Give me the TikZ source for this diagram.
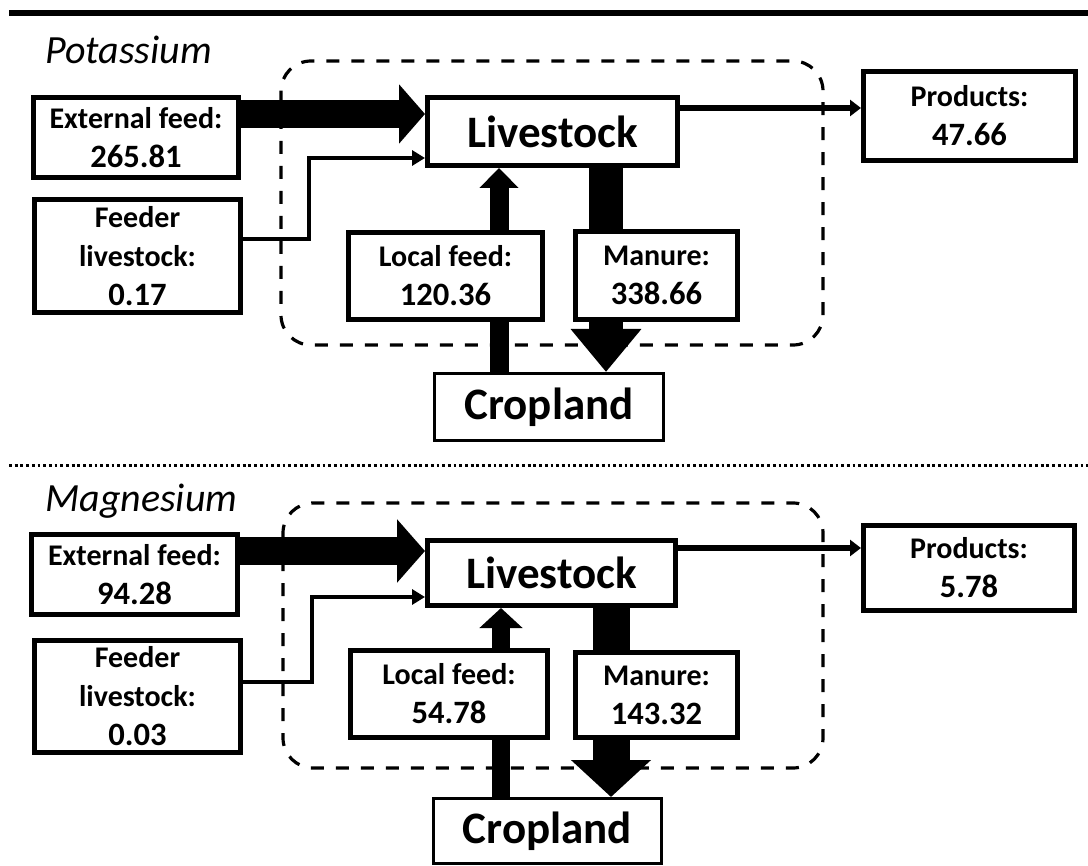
\documentclass[tikz,border=0pt]{standalone}
\usepackage{fontspec}
\setmainfont{Carlito}
\usetikzlibrary{arrows.meta,calc,backgrounds}
\newcommand{\flowval}[1]{{\fontsize{16.3}{19.5}\selectfont #1}}

\begin{document}
\begin{tikzpicture}[x=0.5pt,y=-0.5pt,
  box/.style={draw, line width=2.3pt, fill=white, inner sep=0pt, align=center, font=\fontsize{15}{19.5}\selectfont\bfseries},
  bigbox/.style={box, font=\fontsize{22.5}{27}\selectfont\bfseries},
  paneltitle/.style={anchor=base west, inner sep=0pt, font=\fontsize{20}{24}\selectfont\itshape},
  boundary/.style={line width=1.6pt, dash pattern=on 6.5pt off 6pt, rounded corners=15pt},
  thinflow/.style={line width=1.8pt, -{Triangle[length=6.5pt,width=7.5pt]}},
  outflow/.style={line width=3.3pt, -{Triangle[length=5.5pt,width=8pt]}}]
\useasboundingbox (0,0) rectangle (1088,866);

% Potassium
\draw[line width=3pt] (9,13) -- (1088,13);
\node[paneltitle] (ktitle) at (45,64) {Potassium};
\node[box, minimum width=102.7pt, minimum height=40.2pt] (kext) at (136,137.5) {External feed:\\\flowval{265.81}};
\node[box, minimum width=103.2pt, minimum height=56.7pt] (kfeeder) at (137.5,256) {Feeder\\livestock:\\\flowval{0.17}};
\node[bigbox, minimum width=125.2pt, minimum height=34.2pt] (klive) at (552.5,131.5) {Livestock};
\node[box, minimum width=97.2pt, minimum height=43.7pt] (klocal) at (445.5,276) {Local feed:\\\flowval{120.36}};
\node[box, minimum width=81.2pt, minimum height=44.2pt] (kmanure) at (656.5,275.5) {Manure:\\\flowval{338.66}};
\node[bigbox, line width=1.3pt, minimum width=114.7pt, minimum height=33.7pt] (kcrop) at (549,407) {Cropland};
\node[box, minimum width=106.2pt, minimum height=44.7pt] (kprod) at (969.5,116) {Products:\\\flowval{47.66}};
\begin{scope}[on background layer]
\draw[boundary] (281,61) rectangle (823,345);
\coordinate (kin) at ($(kext.north east)+(0,19)$);
\draw[line width=14pt, -{Triangle[length=13pt,width=29pt]}] (kin) -- (kin -| klive.west);
\draw[thinflow] ($(kfeeder.north east)+(0,42)$) -- ++(66,0) |- ($(klive.north west)+(0,63)$);
\coordinate (kl) at ($(kcrop.north west)+(66,0)$);
\draw[line width=9.5pt, -{Triangle[length=10pt,width=19pt]}] (kl) -- (kl |- klive.south);
\coordinate (km) at ($(klive.south west)+(181,0)$);
\draw[line width=17pt, -{Triangle[length=21.5pt,width=34pt]}] (km) -- (km |- kcrop.north);
\coordinate (kout) at ($(klive.north east)+(0,13)$);
\draw[outflow] (kout) -- (kout -| kprod.west);
\end{scope}

\draw[line width=1.5pt, dash pattern=on 1.4pt off 1.45pt] (9,466) -- (1088,466);

% Magnesium
\node[paneltitle] (mtitle) at (45,511) {Magnesium};
\node[box, minimum width=103.2pt, minimum height=40.2pt] (mext) at (134.5,574.5) {External feed:\\\flowval{94.28}};
\node[box, minimum width=103.2pt, minimum height=56.2pt] (mfeeder) at (137.5,696.5) {Feeder\\livestock:\\\flowval{0.03}};
\node[bigbox, minimum width=124.2pt, minimum height=32.7pt] (mlive) at (551.5,573) {Livestock};
\node[box, minimum width=98.7pt, minimum height=43.7pt] (mlocal) at (449,694) {Local feed:\\\flowval{54.78}};
\node[box, minimum width=81.2pt, minimum height=42.7pt] (mmanure) at (656.5,695) {Manure:\\\flowval{143.32}};
\node[bigbox, line width=1.3pt, minimum width=114.2pt, minimum height=32.7pt] (mcrop) at (547.5,831) {Cropland};
\node[box, minimum width=105.7pt, minimum height=42.7pt] (mprod) at (969,568) {Products:\\\flowval{5.78}};
\begin{scope}[on background layer]
\draw[boundary] (283,503) rectangle (823,768);
\coordinate (min) at ($(mext.north east)+(0,19)$);
\draw[line width=14pt, -{Triangle[length=14pt,width=31pt]}] (min) -- (min -| mlive.west);
\draw[thinflow] ($(mfeeder.north east)+(0,44)$) -- ++(69,0) |- ($(mlive.north west)+(0,59)$);
\coordinate (ml) at ($(mcrop.north west)+(69,0)$);
\draw[line width=9pt, -{Triangle[length=10pt,width=21pt]}] (ml) -- (ml |- mlive.south);
\coordinate (mm) at ($(mlive.south west)+(186,0)$);
\draw[line width=18.5pt, -{Triangle[length=18.5pt,width=39pt]}] (mm) -- (mm |- mcrop.north);
\coordinate (mout) at ($(mlive.north east)+(0,10)$);
\draw[outflow] (mout) -- (mout -| mprod.west);
\end{scope}
\end{tikzpicture}
\end{document}
